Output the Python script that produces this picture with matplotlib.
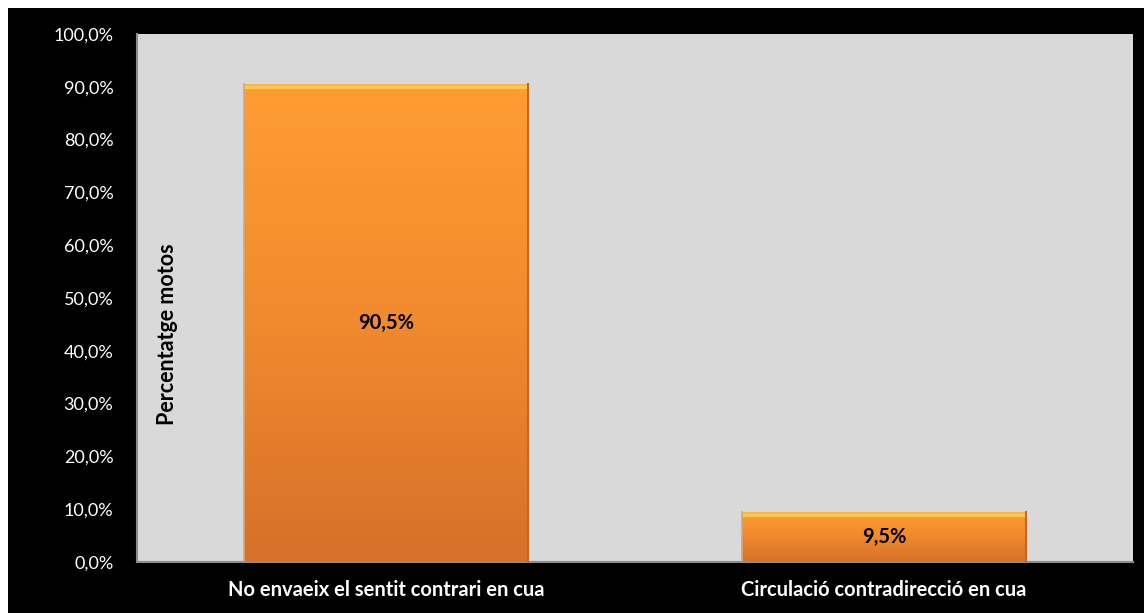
import matplotlib
matplotlib.use("Agg")
import matplotlib.pyplot as plt
import numpy as np
from matplotlib.patches import Rectangle
from matplotlib.colors import LinearSegmentedColormap

categories = ["No envaeix el sentit contrari en cua", "Circulació contradirecció en cua"]
values = [90.5, 9.5]
value_labels = ["90,5%", "9,5%"]
yticks = [0, 10, 20, 30, 40, 50, 60, 70, 80, 90, 100]
ytick_labels = ["0,0%", "10,0%", "20,0%", "30,0%", "40,0%", "50,0%", "60,0%", "70,0%", "80,0%", "90,0%", "100,0%"]
ylabel = "Percentatge motos"

plt.rcParams['font.family'] = ['Lato', 'DejaVu Sans']

W, H = 1144, 613
fig = plt.figure(figsize=(W / 100, H / 100), dpi=100)
fig.patch.set_facecolor("white")
fig.add_artist(Rectangle((8 / W, 0), 1 - 8 / W, (H - 8) / H, transform=fig.transFigure,
                         facecolor="black", edgecolor="none", zorder=0))

ax = fig.add_axes([137 / W, (H - 562) / H, (1133 - 137) / W, (562 - 34) / H])
ax.set_facecolor("#D9D9D9")
ax.set_zorder(1)

x = np.arange(len(categories))
bars = ax.bar(x, values, width=0.57, color="none", edgecolor="none", zorder=2)
ax.set_xlim(-0.5, len(categories) - 0.5)
ax.set_ylim(0, 100)

cmap = LinearSegmentedColormap.from_list("og", ["#D6702A", "#F08A2E", "#FF9D33"])
grad = np.linspace(0, 1, 256).reshape(-1, 1)
for b in bars:
    x0, y0 = b.get_x(), b.get_y()
    w, h = b.get_width(), b.get_height()
    im = ax.imshow(grad, cmap=cmap, aspect="auto", origin="lower",
                   extent=(x0, x0 + w, y0, y0 + h), zorder=2)
    im.set_clip_path(b)
    # highlight top bevel
    ax.add_patch(Rectangle((x0, y0 + h - 0.9), w, 0.9, facecolor="#FFC850",
                           edgecolor="none", zorder=3))
    ax.add_patch(Rectangle((x0, y0 + h - 0.35), w, 0.35, facecolor="#FFB640",
                           edgecolor="none", zorder=3))
    ax.plot([x0 + w, x0 + w], [y0, y0 + h], color="#C8661F", lw=1.5, zorder=3)
    ax.plot([x0, x0], [y0, y0 + h], color="#D9A57A", lw=1.2, zorder=3)

ax.set_xlim(-0.5, len(categories) - 0.5)
ax.set_ylim(0, 100)

for xi, v, lab in zip(x, values, value_labels):
    ax.text(xi, v / 2, lab, ha="center", va="center", fontsize=14.5,
            fontweight="bold", color="black", zorder=4)

ax.set_yticks(yticks)
ax.set_yticklabels(ytick_labels, color="white", fontsize=13)
ax.set_xticks(x)
ax.set_xticklabels(categories, color="white", fontsize=14.5, fontweight="bold")
ax.tick_params(axis="both", length=0)
ax.tick_params(axis="y", pad=17)
ax.tick_params(axis="x", pad=13)

for s in ["top", "right"]:
    ax.spines[s].set_visible(False)
for s in ["left", "bottom"]:
    ax.spines[s].set_color("#8C8C8C")
    ax.spines[s].set_linewidth(1.5)

ax.text(31 / (1133 - 137), (562 - 334) / (562 - 34), ylabel, transform=ax.transAxes, rotation=90,
        ha="center", va="center", fontsize=15.5, fontweight="bold", color="black", zorder=4)

fig.savefig("out.png", dpi=100, facecolor=fig.get_facecolor())
